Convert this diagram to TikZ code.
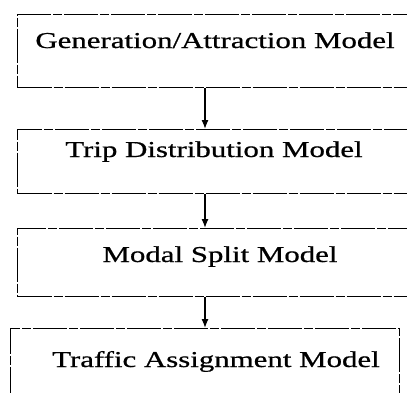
\documentclass[tikz,border=0pt]{standalone}
\usepackage{fontspec}
\setmainfont{Liberation Serif}[FakeBold=0.6]
\usetikzlibrary{positioning, calc, arrows.meta}
\newcommand{\widetext}[1]{\scalebox{1.36}[1]{#1}}
\tikzset{modelbox/.style={draw, line width=1.1pt, dash pattern=on 34pt off 2pt on 9pt off 2pt, anchor=north west, inner sep=0pt}}
\tikzset{modeltext/.style={anchor=base, inner sep=0pt, font=\fontsize{22.7}{27}\selectfont}}
\tikzset{flow/.style={line width=1.3pt, -{Latex[length=9pt, width=7pt]}}}

\begin{document}
\begin{tikzpicture}[x=1pt, y=-1pt]
      \useasboundingbox (0,0) rectangle (407,392);
      \coordinate (axis) at (205,0);

      \node[modelbox, minimum width=403pt, minimum height=73pt] (box1) at (17,14) {};
      \node[modeltext] (gen) at (215,48) {\widetext{Generation/Attraction Model}};

      \node[modelbox, minimum width=403pt, minimum height=64pt] (box2) at (17,129) {};
      \node[modeltext] (dist) at (214,157) {\widetext{Trip Distribution Model}};

      \node[modelbox, minimum width=403pt, minimum height=68pt] (box3) at (17,228) {};
      \node[modeltext] (split) at (220,262) {\widetext{Modal Split Model}};

      \node[modelbox, minimum width=389pt, minimum height=77pt] (box4) at (10,328) {};
      \node[modeltext] (assign) at (216,367) {\widetext{Traffic Assignment Model}};

      \draw[flow] (box1.south -| axis) -- (box2.north -| axis);
      \draw[flow] (box2.south -| axis) -- (box3.north -| axis);
      \draw[flow] (box3.south -| axis) -- (box4.north -| axis);
    \end{tikzpicture}
\end{document}
